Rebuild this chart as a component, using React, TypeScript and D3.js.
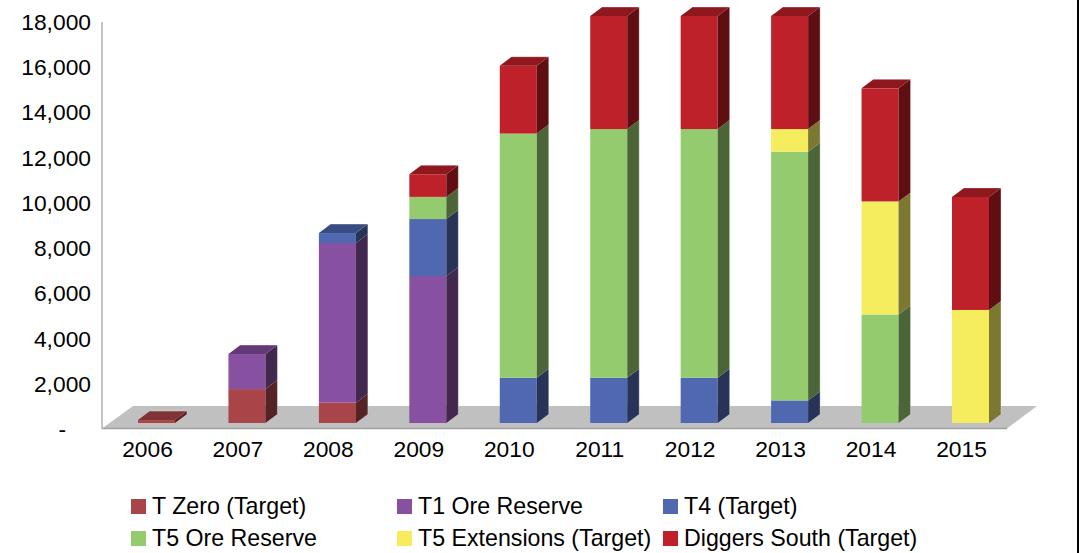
import React from "react";
import * as d3 from "d3";

const years = ["2006","2007","2008","2009","2010","2011","2012","2013","2014","2015"];
const seriesNames = ["T Zero (Target)","T1 Ore Reserve","T4 (Target)","T5 Ore Reserve","T5 Extensions (Target)","Diggers South (Target)"];
const tZero = [130,1500,900,0,0,0,0,0,0,0];
const t1 = [0,1550,7060,6500,0,0,0,0,0,0];
const t4 = [0,0,440,2520,2000,2000,2000,1000,0,0];
const t5 = [0,0,0,980,10800,11000,11000,11000,4800,0];
const t5Ext = [0,0,0,0,0,0,0,1000,5000,5000];
const diggers = [0,0,0,1000,3000,5000,5000,5000,5000,5000];
const seriesValues = [tZero,t1,t4,t5,t5Ext,diggers];
const colors = ["#a94548","#8750a0","#4f68b0","#94cb6e","#f6ed5e","#be2129"];
const topColors = ["#7f3336","#633a77","#3a4d83","#6e9752","#b7b046","#8e181e"];
const sideColors = ["#552225","#42274f","#273457","#4b6538","#7c7831","#5f0f12"];
const tickValues = [0,2000,4000,6000,8000,10000,12000,14000,16000,18000];
const legendCols = [131,397,663];

const font = "'Liberation Sans', Arial, sans-serif";
const barW = 37, dx = 12, dy = 9;

export default function App() {
  const x = d3.scalePoint<string>().domain(years).range([156.5, 970.5]);
  const y = d3.scaleLinear().domain([0, 18000]).range([423, 16]);
  const stack = d3.stack<number>()
    .keys(seriesNames.map((_, i) => i) as any)
    .value((i: number, k: any) => seriesValues[k][i])(years.map((_, i) => i));
  const fmt = d3.format(",");
  const poly = (pts: number[][]) => pts.map(p => p.join(",")).join(" ");

  return (
    <svg width={1079} height={553} style={{ position: "absolute", left: 0, top: 0, background: "#fff" }}>
      {/* floor and walls */}
      <polygon points={poly([[102,428.5],[1007,428.5],[1037,406],[133,406]])} fill="#c0c0c0" />
      <line x1={102} x2={1007} y1={428.5} y2={428.5} stroke="#a0a0a0" strokeWidth={1.5} />
      <line x1={102} x2={102} y1={22} y2={429} stroke="#b0b0b0" strokeWidth={1.5} />
      <line x1={1078} x2={1078} y1={0} y2={553} stroke="#000" strokeWidth={2} />

      {/* y axis */}
      {tickValues.map(t => (
        <text key={t} x={t === 0 ? 66 : 91} y={y(t) + 14} textAnchor={"end"} fontFamily={font} fontSize={22.8} fill="#000">
          {t === 0 ? "-" : fmt(t)}
        </text>
      ))}
      {/* x axis */}
      {years.map(c => (
        <text key={c} x={x(c)! - 9} y={457} textAnchor="middle" fontFamily={font} fontSize={22.8} fill="#000">{c}</text>
      ))}

      {/* bars */}
      {years.map((c, i) => {
        const x0 = x(c)! - barW / 2, x1 = x0 + barW;
        let topIdx = -1;
        stack.forEach((s, k) => { if (s[i][1] > s[i][0]) topIdx = k; });
        const total = topIdx >= 0 ? stack[topIdx][i][1] : 0;
        return (
          <g key={c}>
            {stack.map((s, k) => {
              const [v0, v1] = s[i];
              if (v1 <= v0) return null;
              const yb = y(v0), yt = y(v1);
              return (
                <g key={k}>
                  <rect x={x0} y={yt} width={barW} height={yb - yt} fill={colors[k]} />
                  <polygon points={poly([[x1,yb],[x1+dx,yb-dy],[x1+dx,yt-dy],[x1,yt]])} fill={sideColors[k]} />
                  {k === topIdx && (
                    <polygon points={poly([[x0,yt],[x0+dx,yt-dy],[x1+dx,yt-dy],[x1,yt]])} fill={topColors[k]} />
                  )}
                </g>
              );
            })}
            {/* pale outer edge of the extruded box */}
            <polyline
              points={poly([[x0+dx,y(total)-dy],[x1+dx,y(total)-dy],[x1+dx,y(0)-dy]])}
              fill="none" stroke="#fff" strokeOpacity={0.35} strokeWidth={1}
            />
          </g>
        );
      })}

      {/* legend */}
      {seriesNames.map((n, k) => {
        const lx = legendCols[k % 3], row = Math.floor(k / 3);
        const sy = row === 0 ? 499 : 531;
        return (
          <g key={n}>
            <rect x={lx} y={sy} width={15} height={15} fill={colors[k]} />
            <text x={lx + 21} y={sy + 14.5} fontFamily={font} fontSize={23.2} fill="#000">{n}</text>
          </g>
        );
      })}
    </svg>
  );
}
